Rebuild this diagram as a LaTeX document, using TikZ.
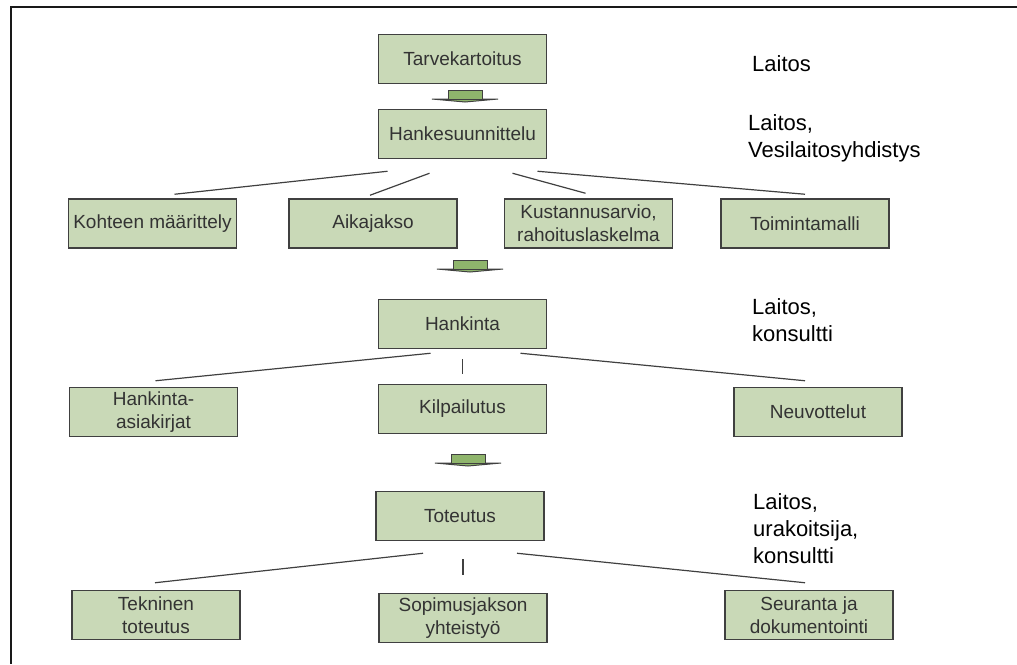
\documentclass[tikz,border=0pt]{standalone}
\usepackage{fontspec}
\setmainfont{Liberation Sans}
\usepackage{tikz}
\usetikzlibrary{calc}
\definecolor{boxGreen}{RGB}{201,217,183}
\definecolor{arrowGreen}{RGB}{143,181,108}
\definecolor{edgeGray}{gray}{0.25}
\definecolor{textGray}{gray}{0.2}
\definecolor{frameBlack}{gray}{0.1}

\begin{document}
\begin{tikzpicture}[x=1pt, y=-1pt,
    box/.style={draw=edgeGray, line width=1.5pt, fill=boxGreen, text=textGray,
        minimum width=168pt, minimum height=49pt, align=center, inner sep=2pt,
        font=\fontsize{19}{23}\selectfont},
    link/.style={edgeGray, line width=1.2pt},
    role/.style={anchor=north west, align=left, inner sep=0pt,
        font=\fontsize{22}{27}\selectfont},
    downarrow/.pic={
        \filldraw[fill=arrowGreen, draw=edgeGray, line width=1pt] (-33,4) -- (33,4) -- (0,7) -- cycle;
        \filldraw[fill=arrowGreen, draw=edgeGray, line width=0.8pt] (-17,-5) rectangle (17,4);
    }]
    \useasboundingbox (0,0) rectangle (1017,664);

    % Frame
    \draw[line width=2pt, frameBlack] (1017,7) -- (11,7) -- (11,664);

    % Planning
    \node[box] (tarve) at (462.5,59) {Tarvekartoitus};
    \node[box] (hanke) at (462.5,134) {Hankesuunnittelu};
    \pic at (465,95) {downarrow};

    \node[box] (kohde) at (152.5,223.5) {Kohteen määrittely};
    \node[box] (aika) at (373,223.5) {Aikajakso};
    \node[box] (kustannus) at (588.5,223.5) {Kustannusarvio,\\rahoituslaskelma};
    \node[box] (toiminta) at (805,223.5) {Toimintamalli};

    \draw[link] ($(hanke.south)+(-75,12)$) -- ($(kohde.north)+(22,-4)$);
    \draw[link] ($(hanke.south)+(-33,14)$) -- ($(aika.north)+(-3,-3)$);
    \draw[link] ($(hanke.south)+(50,14)$) -- ($(kustannus.north)+(-3,-5)$);
    \draw[link] ($(hanke.south)+(75,12)$) -- ($(toiminta.north)+(0,-4)$);

    % Procurement
    \pic at (470,265) {downarrow};
    \node[box] (hankinta) at (462.5,324) {Hankinta};
    \node[box] (asiakirjat) at (153.5,412) {Hankinta-\\asiakirjat};
    \node[box] (kilpailu) at (462.5,409) {Kilpailutus};
    \node[box] (neuvottelu) at (818,412) {Neuvottelut};

    \draw[link] ($(hankinta.south)+(-32,4)$) -- ($(asiakirjat.north)+(2,-6)$);
    \draw[link] ($(hankinta.south)+(0,10)$) -- ($(kilpailu.north)+(0,-10)$);
    \draw[link] ($(hankinta.south)+(58,4)$) -- ($(neuvottelu.north)+(-13,-6)$);

    % Implementation
    \pic at (468,459) {downarrow};
    \node[box] (toteutus) at (460,516) {Toteutus};
    \node[box] (tekninen) at (156,615) {Tekninen\\toteutus};
    \node[box] (sopimus) at (463,618) {Sopimusjakson\\yhteistyö};
    \node[box] (seuranta) at (809,615) {Seuranta ja\\dokumentointi};

    \draw[link] ($(toteutus.south)+(-37,12)$) -- ($(tekninen.north)+(-1,-7)$);
    \draw[link] ($(toteutus.south)+(3,18)$) -- ($(sopimus.north)+(0,-18)$);
    \draw[link] ($(toteutus.south)+(57,12)$) -- ($(seuranta.north)+(-4,-7)$);

    % Roles
    \node[role] (rooli1) at (752,55) {Laitos};
    \node[role] (rooli2) at (748,114) {Laitos,\\Vesilaitosyhdistys};
    \node[role] (rooli3) at (752,298) {Laitos,\\konsultti};
    \node[role] (rooli4) at (753,493) {Laitos,\\urakoitsija,\\konsultti};
\end{tikzpicture}
\end{document}
